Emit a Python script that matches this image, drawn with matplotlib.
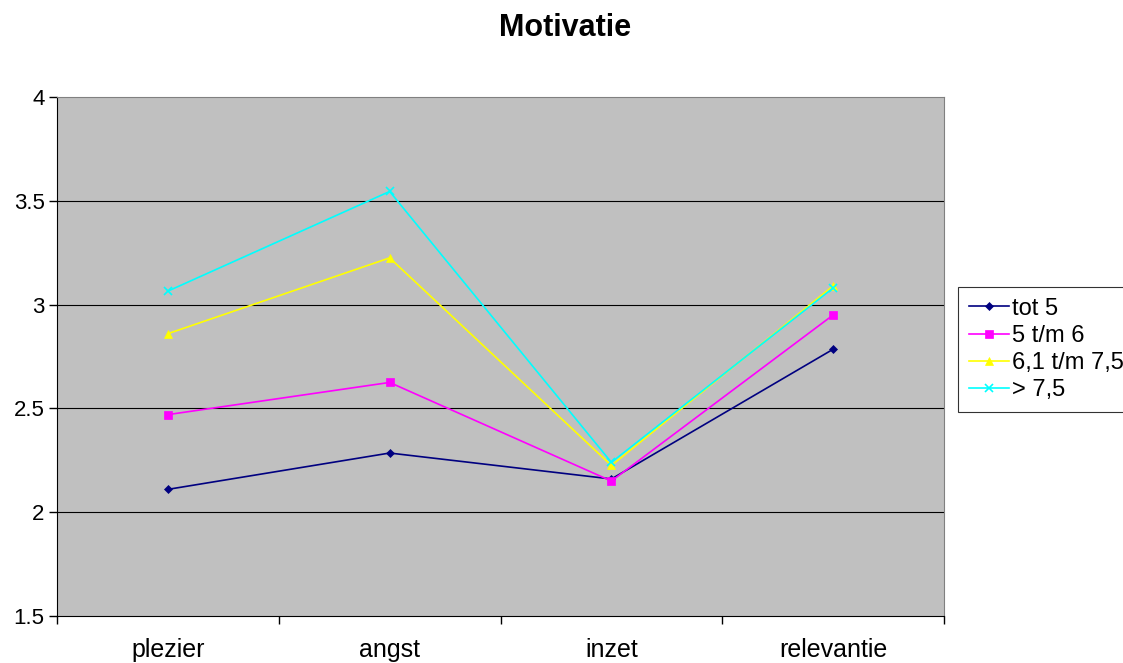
import numpy as np
import matplotlib.pyplot as plt

plt.rcParams['font.family'] = ['Liberation Sans', 'DejaVu Sans']

categories = ['plezier', 'angst', 'inzet', 'relevantie']
series_names = ['tot 5', '5 t/m 6', '6,1 t/m 7,5', '> 7,5']
tot5 = [2.11, 2.285, 2.16, 2.785]
t5_6 = [2.47, 2.625, 2.15, 2.95]
t61_75 = [2.86, 3.225, 2.225, 3.09]
boven75 = [3.065, 3.545, 2.24, 3.08]
y_ticks = [1.5, 2, 2.5, 3, 3.5, 4]

colors = ['#000080', '#FF00FF', '#FFFF00', '#00FFFF']
markers = ['D', 's', '^', 'x']
msizes = [4.5, 6, 6, 6]

fig = plt.figure(figsize=(11.23, 6.63), dpi=100)
ax = fig.add_axes([0.0508, 0.0709, 0.7898, 0.7828])
ax.set_facecolor('#C0C0C0')

x = np.arange(len(categories))
all_series = [tot5, t5_6, t61_75, boven75]
for vals, name, c, m, ms in zip(all_series, series_names, colors, markers, msizes):
    ax.plot(x, vals, color=c, marker=m, markersize=ms, linewidth=1.2,
            label=name, markeredgewidth=1.2 if m == 'x' else 0.5, zorder=3)

ax.set_xlim(-0.5, len(categories) - 0.5)
ax.set_ylim(1.5, 4)
ax.set_yticks(y_ticks)
ax.set_yticklabels(['1.5', '2', '2.5', '3', '3.5', '4'], fontsize=16)
ax.set_xticks(x)
ax.set_xticklabels(categories, fontsize=18)
ax.set_xticks(np.arange(len(categories) + 1) - 0.5, minor=True)
ax.tick_params(axis='x', which='major', length=0, pad=16)
ax.tick_params(axis='x', which='minor', length=6, width=1, direction='out')
ax.tick_params(axis='y', length=6, width=1, direction='out', pad=3)

for yv in y_ticks[1:-1]:
    ax.axhline(yv, color='black', linewidth=0.8, zorder=1)

ax.spines['left'].set_color('black')
ax.spines['bottom'].set_color('black')
ax.spines['top'].set_color('#808080')
ax.spines['right'].set_color('#808080')

fig.suptitle('Motivatie', x=0.503, y=0.98, fontsize=22, fontweight='bold')

leg = fig.legend(loc='upper left', bbox_to_anchor=(0.853, 0.567), fontsize=17,
                 frameon=True, fancybox=False, handlelength=1.7, handletextpad=0.15,
                 borderpad=0.45, borderaxespad=0, labelspacing=0.22)
leg.get_frame().set_edgecolor('black')
leg.get_frame().set_linewidth(0.8)

fig.savefig('out.png', dpi=100)
